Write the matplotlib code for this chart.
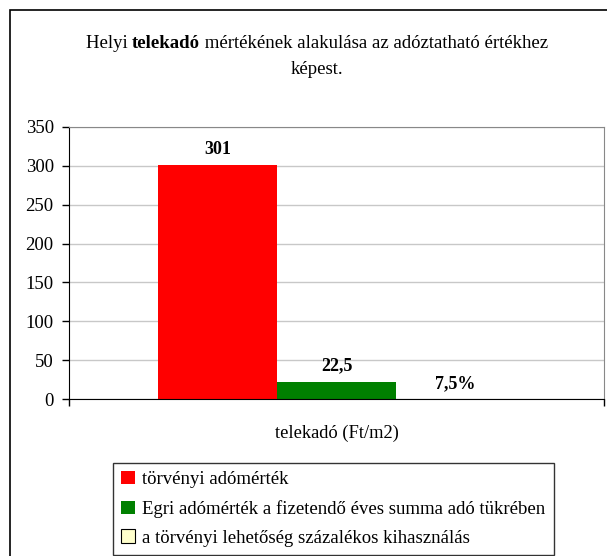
import matplotlib.pyplot as plt
from matplotlib.patches import Patch, Rectangle

plt.rcParams['font.family'] = ['Liberation Serif', 'DejaVu Serif']

series = ['törvényi adómérték',
          'Egri adómérték a fizetendő éves summa adó tükrében',
          'a törvényi lehetőség százalékos kihasználás']
values = [301, 22.5, 0.075]
labels = ['301', '22,5', '7,5%']
colors = ['#ff0000', '#008000', '#ffffcc']
category = 'telekadó (Ft/m2)'

W, H = 607, 556
fig = plt.figure(figsize=(W / 100, H / 100), dpi=100)

# outer chart border
fig.patches.append(Rectangle((10 / W, -0.1), 1.2, 1 - 10 / H + 0.1,
                             transform=fig.transFigure, fill=False,
                             edgecolor='black', linewidth=1.2))

ax = fig.add_axes([69 / W, 1 - 399 / H, 535 / W, 272 / H])
bw = 119 / 535
offs = [-bw, 0, bw]
for v, c, o, lab in zip(values, colors, offs, labels):
    ax.bar(o, v, width=bw, color=c, edgecolor='none', zorder=2)
    ax.text(o, v + 9, lab, ha='center', va='bottom', fontsize=13,
            fontweight='bold')

ax.set_xlim(-0.5, 0.5)
ax.set_ylim(0, 350)
ax.set_yticks(range(0, 351, 50))
ax.set_xticks([-0.5, 0.5])
ax.set_xticklabels([])
ax.tick_params(axis='y', labelsize=13.5, direction='out', length=5, width=1,
               pad=6)
ax.tick_params(axis='x', direction='out', length=5, width=1)
ax.grid(axis='y', color='#c8c8c8', linewidth=1, zorder=0)
for s in ['top', 'right']:
    ax.spines[s].set_color('#888888')
for s in ['left', 'bottom']:
    ax.spines[s].set_color('black')
ax.text(0.5, -0.125, category, transform=ax.transAxes, ha='center',
        va='center', fontsize=13.3)

# title, with the bold word
fig.canvas.draw()
r = fig.canvas.get_renderer()
parts = [('Helyi ', 'normal'), ('telekadó', 'bold'),
         (' mértékének alakulása az adóztatható értékhez', 'normal')]
tmp = [fig.text(0, 0, p, fontsize=13.5, fontweight=w) for p, w in parts]
widths = [t.get_window_extent(r).width for t in tmp]
for t in tmp:
    t.remove()
x = 317 - sum(widths) / 2
for (p, w), wd in zip(parts, widths):
    fig.text(x / W, 1 - 44 / H, p, fontsize=13.5, fontweight=w,
             ha='left', va='center')
    x += wd
fig.text(317 / W, 1 - 69 / H, 'képest.', fontsize=13.5, ha='center',
         va='center')

handles = [Patch(facecolor=c, edgecolor='black' if i == 2 else 'none',
                 linewidth=0.8) for i, c in enumerate(colors)]
leg = fig.legend(handles, series, loc='lower left',
                 bbox_to_anchor=(113 / W, 1 / H), fontsize=13.5,
                 frameon=True, fancybox=False, handlelength=0.7,
                 handleheight=0.7, handletextpad=0.4, labelspacing=0.62,
                 borderpad=0.45, borderaxespad=0)
leg.get_frame().set_edgecolor('black')
leg.get_frame().set_linewidth(1)

fig.savefig('out.png', dpi=100)
